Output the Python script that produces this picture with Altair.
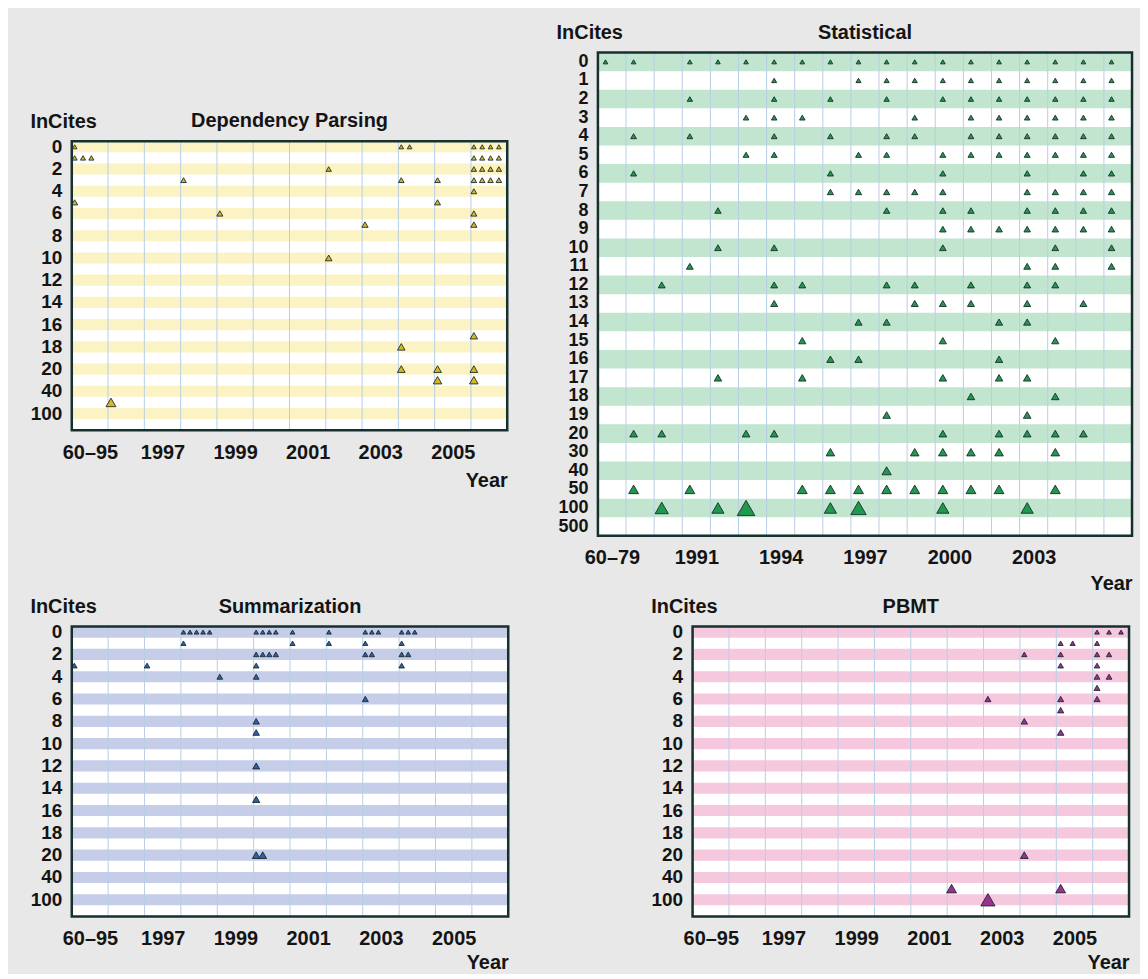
import altair as alt
import pandas as pd

FONT = "Liberation Sans"
BG = "#e8e8e8"
TEXT = "#141414"
GRID = "#b7cfe5"
BORDER = "#163030"
TRI_STROKE = "#1b2a2e"

# InCites bins (rows, top to bottom)
INCITES = [str(i) for i in range(21)] + ["30", "40", "50", "100", "500"]
SPARSE_TICKS = [str(i) for i in range(0, 21, 2)] + ["40", "100"]

# ---------------- Dependency Parsing ----------------
DEP_YEARS = ["60–95", "1996", "1997", "1998", "1999", "2000", "2001", "2002",
             "2003", "2004", "2005", "2006"]
DEP_YEAR_LABELS = ["60–95", "1997", "1999", "2001", "2003", "2005"]
DEP_YEAR = ["60–95", "60–95", "60–95", "1996", "1998", "1999", "2002", "2002",
            "2003", "2004", "2004", "2004", "2004", "2005", "2005", "2005", "2005",
            "2006", "2006", "2006", "2006", "2006", "2006", "2006", "2006", "2006", "2006"]
DEP_CITES = ["0", "1", "5", "50", "3", "6", "2", "10",
             "7", "0", "3", "18", "20", "3", "5", "20", "30",
             "0", "1", "2", "3", "4", "6", "7", "17", "20", "30"]
DEP_COUNT = [1, 3, 1, 1, 1, 1, 1, 1,
             1, 2, 1, 1, 1, 1, 1, 1, 1,
             4, 4, 4, 4, 1, 1, 1, 1, 1, 1]

# ---------------- Statistical ----------------
STAT_YEARS = ["60–79", "80–89", "1990", "1991", "1992", "1993", "1994", "1995",
              "1996", "1997", "1998", "1999", "2000", "2001", "2002", "2003",
              "2004", "2005", "2006"]
STAT_YEAR_LABELS = ["60–79", "1991", "1994", "1997", "2000", "2003"]
# years with one paper in each InCites row (same order as INCITES)
STAT_ROW_YEARS = [
    ["60–79", "80–89", "1991", "1992", "1993", "1994", "1995", "1996", "1997", "1998",
     "1999", "2000", "2001", "2002", "2003", "2004", "2005", "2006"],
    ["1994", "1997", "1998", "1999", "2000", "2001", "2002", "2003", "2004", "2005", "2006"],
    ["1991", "1994", "1996", "1998", "2000", "2001", "2002", "2003", "2004", "2005", "2006"],
    ["1993", "1994", "1995", "1999", "2001", "2002", "2003", "2004", "2005", "2006"],
    ["80–89", "1991", "1994", "1996", "1998", "1999", "2001", "2002", "2003", "2004",
     "2005", "2006"],
    ["1993", "1994", "1997", "1998", "2000", "2001", "2002", "2003", "2004", "2005", "2006"],
    ["80–89", "1996", "2000", "2003", "2005", "2006"],
    ["1996", "1997", "1998", "1999", "2000", "2003", "2004", "2005", "2006"],
    ["1992", "1998", "2000", "2001", "2003", "2004", "2005", "2006"],
    ["2000", "2001", "2002", "2003", "2004", "2005", "2006"],
    ["1992", "1994", "2000", "2004", "2006"],
    ["1991", "2003", "2004", "2006"],
    ["1990", "1994", "1995", "1998", "1999", "2001", "2003", "2004"],
    ["1994", "1999", "2000", "2001", "2003", "2005"],
    ["1997", "1998", "2002", "2003"],
    ["1995", "2000", "2004"],
    ["1996", "1997", "2002"],
    ["1992", "1995", "2000", "2002", "2003"],
    ["2001", "2004"],
    ["1998", "2003"],
    ["80–89", "1990", "1993", "1994", "2000", "2002", "2003", "2004", "2005"],
    ["1996", "1999", "2000", "2001", "2002", "2004"],
    ["1998"],
    ["80–89", "1991", "1995", "1996", "1997", "1998", "1999", "2000", "2001", "2002", "2004"],
    ["1990", "1992", "1993", "1996", "1997", "2000", "2003"],
    [],
]
STAT_BIG_YEAR = ["1990", "1993", "1997"]
STAT_BIG_CITES = [130, 300, 200]

# ---------------- Summarization ----------------
SUM_YEAR = ["1998", "2000", "2001", "2002", "2003", "2004",
            "1998", "2001", "2002", "2003", "2004",
            "2000", "2003", "2004",
            "60–95", "1997", "2000", "2004",
            "1999", "2000", "2003", "2000", "2000", "2000", "2000", "2000"]
SUM_CITES = ["0", "0", "0", "0", "0", "0",
             "1", "1", "1", "1", "1",
             "2", "2", "2",
             "3", "3", "3", "3",
             "4", "4", "6", "8", "9", "12", "15", "20"]
SUM_COUNT = [5, 4, 1, 1, 3, 3,
             1, 1, 1, 1, 1,
             4, 2, 2,
             1, 1, 1, 1,
             1, 1, 1, 1, 1, 1, 1, 2]

# ---------------- PBMT ----------------
PB_YEAR = ["2006", "2005", "2006", "2004", "2005", "2006", "2005", "2006", "2006", "2006",
           "2003", "2005", "2006", "2005", "2004", "2005", "2004", "2002", "2005", "2003"]
PB_CITES = ["0", "1", "1", "2", "2", "2", "3", "3", "4", "5",
            "6", "6", "6", "7", "8", "9", "20", "50", "50", "100"]
PB_COUNT = [3, 2, 1, 1, 1, 2, 1, 1, 2, 1,
            1, 1, 1, 1, 1, 1, 1, 1, 1, 1]
PB_BIG_YEAR = ["2003"]
PB_BIG_CITES = [160]


def triangles(years, cell_years, cell_rows, cell_counts, first, step, big=None):
    big = big or {}
    recs = []
    for yr, r, n in zip(cell_years, cell_rows, cell_counts):
        c = years.index(yr)
        for k in range(n):
            cites = big.get(yr, int(r)) if r == "100" else int(r)
            recs.append({"x": c + first + k * step, "row": r, "cites": cites})
    return pd.DataFrame(recs)


SIZE_SCALE = alt.Scale(type="pow", exponent=0.75, domain=[0, 300], range=[22, 313])


def panel(name, years, labeled, ticks, tri_df, stripe, fill, w, h, year_y, ylab_size):
    n = len(years)
    xscale = alt.Scale(domain=[0, n], nice=False, zero=False)
    yscale = alt.Scale(type="band", domain=INCITES, paddingInner=0, paddingOuter=0)
    label_expr = "[" + ",".join("'%s'" % y for y in years) + "][floor(datum.value)]"
    xaxis = alt.Axis(values=[years.index(y) + 0.5 for y in labeled], labelExpr=label_expr,
                     title="Year", titleX=w, titleY=year_y, titleAlign="right",
                     titleBaseline="middle", titleFontSize=20, titleFont=FONT,
                     titleFontWeight="bold", titleColor=TEXT,
                     labelFontSize=20, labelFont=FONT, labelFontWeight="bold",
                     labelColor=TEXT, labelPadding=12, ticks=False, domain=False,
                     grid=False, labelOverlap=False, labelFlush=False, labelAngle=0)
    yaxis = alt.Axis(values=ticks, title="InCites", titleAngle=0, titleX=-42, titleY=-20,
                     titleAlign="left", titleBaseline="middle", titleFontSize=20,
                     titleFont=FONT, titleFontWeight="bold", titleColor=TEXT,
                     labelFontSize=ylab_size, labelFont=FONT, labelFontWeight="bold",
                     labelColor=TEXT, labelPadding=10, ticks=False, domain=False,
                     grid=False, labelOverlap=False)
    base = alt.Chart(pd.DataFrame({"t": [0]})).mark_rect(
        fill="white", strokeWidth=0).encode(
        x=alt.value(0), x2=alt.value("width"), y=alt.value(0), y2=alt.value("height"))
    stripes = alt.Chart(pd.DataFrame({"row": INCITES[::2]})).mark_rect(
        color=stripe, strokeWidth=0).encode(
        y=alt.Y("row:N", scale=yscale, axis=yaxis),
        x=alt.value(0), x2=alt.value("width"))
    grid = alt.Chart(pd.DataFrame({"x": list(range(n + 1))})).mark_rule(
        color=GRID, strokeWidth=1).encode(
        x=alt.X("x:Q", scale=xscale, axis=xaxis))
    tri = alt.Chart(tri_df).mark_point(
        shape="triangle-up", filled=True, fill=fill, stroke=TRI_STROKE,
        strokeWidth=0.9, opacity=1).encode(
        x=alt.X("x:Q", scale=xscale, axis=xaxis),
        y=alt.Y("row:N", scale=yscale, axis=yaxis),
        size=alt.Size("cites:Q", scale=SIZE_SCALE, legend=None))
    border = alt.Chart(pd.DataFrame({"t": [0]})).mark_rect(
        fill="transparent", stroke=BORDER, strokeWidth=2.5).encode(
        x=alt.value(0), x2=alt.value("width"), y=alt.value(0), y2=alt.value("height"))
    title = alt.Chart(pd.DataFrame({"t": [name]})).mark_text(
        font=FONT, fontSize=20, fontWeight="bold", color=TEXT,
        align="center", baseline="middle").encode(
        text="t:N", x=alt.value(w / 2), y=alt.value(-20))
    return alt.layer(base, stripes, grid, tri, border, title).properties(width=w, height=h)


dep_df = triangles(DEP_YEARS, DEP_YEAR, DEP_CITES, DEP_COUNT, 0.08, 0.23)
stat_cells_year, stat_cells_row = [], []
for r, yrs in zip(INCITES, STAT_ROW_YEARS):
    for yr in yrs:
        stat_cells_year.append(yr)
        stat_cells_row.append(r)
stat_df = triangles(STAT_YEARS, stat_cells_year, stat_cells_row,
                    [1] * len(stat_cells_year), 0.27, 0.0,
                    dict(zip(STAT_BIG_YEAR, STAT_BIG_CITES)))
sum_df = triangles(DEP_YEARS, SUM_YEAR, SUM_CITES, SUM_COUNT, 0.07, 0.18)
pb_df = triangles(DEP_YEARS, PB_YEAR, PB_CITES, PB_COUNT, 0.12, 0.33,
                  dict(zip(PB_BIG_YEAR, PB_BIG_CITES)))

dep = panel("Dependency Parsing", DEP_YEARS, DEP_YEAR_LABELS, SPARSE_TICKS, dep_df,
            "#fcf3c4", "#d8b820", 437, 290, 50, 19)
stat = panel("Statistical", STAT_YEARS, STAT_YEAR_LABELS, INCITES, stat_df,
             "#c2e5cf", "#1f9a4c", 536, 485, 48, 18)
summ = panel("Summarization", DEP_YEARS, DEP_YEAR_LABELS, SPARSE_TICKS, sum_df,
             "#c5cde8", "#2f5fa8", 438, 291, 46, 19)
pbmt = panel("PBMT", DEP_YEARS, DEP_YEAR_LABELS, SPARSE_TICKS, pb_df,
             "#f6c8dd", "#9a3090", 438, 291, 46, 19)

spacer = alt.Chart(pd.DataFrame({"t": [""]})).mark_text().encode(
    text="t:N", x=alt.value(0), y=alt.value(30)).properties(width=437, height=59)

left_col = alt.vconcat(spacer, dep, spacing=0)
top = alt.hconcat(left_col, stat, spacing=47)
bottom = alt.hconcat(summ, pbmt, spacing=141)

chart = alt.vconcat(top, bottom, spacing=3).properties(
    background=BG, padding={"left": 22, "top": 13, "right": 6, "bottom": 0}
).configure_view(stroke="transparent", strokeWidth=0)

chart.save("out.html", embed_options={"renderer": "svg", "actions": False})
